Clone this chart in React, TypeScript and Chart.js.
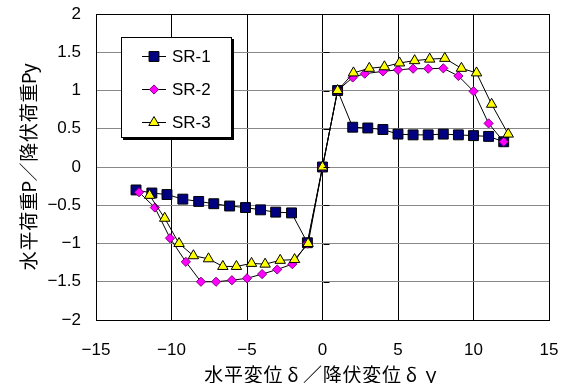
import React, { useEffect, useRef } from 'react';
import { Chart, registerables } from 'chart.js';

Chart.register(...registerables);

// ---- data ----
const seriesNames = ['SR-1', 'SR-2', 'SR-3'];

const sr1X = [-12.35, -11.3, -10.3, -9.25, -8.2, -7.2, -6.15, -5.1, -4.1, -3.1, -2.05, -1.0, 0, 1, 2, 3, 4, 5, 6, 7, 8, 9, 10, 11, 12];
const sr1Y = [-0.3, -0.34, -0.36, -0.42, -0.45, -0.48, -0.51, -0.53, -0.56, -0.59, -0.6, -0.99, 0, 1.0, 0.52, 0.51, 0.49, 0.43, 0.42, 0.42, 0.43, 0.42, 0.41, 0.4, 0.33];

const sr2X = [-12.15, -11.1, -10.1, -9.05, -8.05, -7.05, -6.0, -5.0, -4.0, -3.0, -2.0, -1.0, 0, 1, 2, 2.8, 4, 5, 6, 7, 8, 9, 10, 11, 12];
const sr2Y = [-0.33, -0.53, -0.93, -1.24, -1.5, -1.5, -1.48, -1.455, -1.4, -1.34, -1.27, -1.0, 0, 1.0, 1.17, 1.22, 1.25, 1.27, 1.285, 1.285, 1.29, 1.19, 0.99, 0.57, 0.33];

const sr3X = [-11.45, -10.45, -9.5, -8.55, -7.55, -6.6, -5.7, -4.7, -3.8, -2.8, -1.85, -0.95, 0, 1, 2.05, 3.1, 4.1, 5.1, 6.1, 7.1, 8.1, 9.2, 10.2, 11.2, 12.3];
const sr3Y = [-0.37, -0.67, -1.0, -1.16, -1.2, -1.3, -1.3, -1.26, -1.27, -1.22, -1.21, -1.0, 0, 1.0, 1.23, 1.29, 1.31, 1.36, 1.39, 1.41, 1.42, 1.29, 1.23, 0.82, 0.43];

const xMin = -15, xMax = 15, xStep = 5;
const yMin = -2, yMax = 2, yStep = 0.5;

const xTitle = '水平変位δ／降伏変位δｙ';
const yTitle = '水平荷重P／降伏荷重Py';

// ---- styles ----
const markerStyles = [
  { shape: 'rect', radius: 7, fill: '#000080', stroke: '#000000' },
  { shape: 'rectRot', radius: 4.6, fill: '#FF00FF', stroke: '#800080' },
  { shape: 'triangle', radius: 6, fill: '#FFFF00', stroke: '#000000' },
];

const tickFont = { family: '"Liberation Sans", Arial, sans-serif', size: 17 };
const titleFontCss = '19px "Noto Sans CJK JP", sans-serif';
const fullCell = 19.75;
const halfCell = 9.9;

const pts = (xs: number[], ys: number[]) => xs.map((x, i) => ({ x, y: ys[i] }));
const fmt = (v: number) => String(v).replace('-', '−');

function drawMarker(ctx: CanvasRenderingContext2D, idx: number, x: number, y: number) {
  const m = markerStyles[idx];
  ctx.save();
  ctx.beginPath();
  if (m.shape === 'rect') {
    const s = Math.SQRT1_2 * m.radius;
    ctx.rect(x - s, y - s, 2 * s, 2 * s);
  } else if (m.shape === 'rectRot') {
    const r = m.radius;
    ctx.moveTo(x - r, y);
    ctx.lineTo(x, y - r);
    ctx.lineTo(x + r, y);
    ctx.lineTo(x, y + r);
    ctx.closePath();
  } else {
    const r = m.radius;
    ctx.moveTo(x, y - r);
    ctx.lineTo(x + r * Math.sin((2 * Math.PI) / 3), y - r * Math.cos((2 * Math.PI) / 3));
    ctx.lineTo(x + r * Math.sin((4 * Math.PI) / 3), y - r * Math.cos((4 * Math.PI) / 3));
    ctx.closePath();
  }
  ctx.fillStyle = m.fill;
  ctx.fill();
  ctx.strokeStyle = m.stroke;
  ctx.lineWidth = 1;
  ctx.stroke();
  ctx.restore();
}

// draws a title with fixed-pitch cells (full-width / half-width), centred at (cx, cy)
function drawCellText(ctx: CanvasRenderingContext2D, text: string, cx: number, cy: number, rot: number) {
  const chars = Array.from(text);
  const widths = chars.map((c) => (c.charCodeAt(0) < 128 ? halfCell : fullCell));
  const total = widths.reduce((a, b) => a + b, 0);
  ctx.save();
  ctx.translate(cx, cy);
  ctx.rotate(rot);
  ctx.font = titleFontCss;
  ctx.fillStyle = '#000';
  ctx.textAlign = 'center';
  ctx.textBaseline = 'middle';
  let pos = -total / 2;
  chars.forEach((c, i) => {
    ctx.fillText(c, pos + widths[i] / 2, 0);
    pos += widths[i];
  });
  ctx.restore();
}

const framePlugin = {
  id: 'frameAndLegend',
  afterDatasetsDraw(chart: any) {
    const { ctx, chartArea, scales } = chart;
    const { left, top, right, bottom } = chartArea;
    ctx.save();
    // axis cross ticks on the vertical axis at x = 0
    const x0 = Math.round(scales.x.getPixelForValue(0)) + 0.5;
    ctx.strokeStyle = '#000';
    ctx.lineWidth = 1;
    for (let v = yMin; v <= yMax + 1e-9; v += yStep) {
      const py = Math.round(scales.y.getPixelForValue(v)) + 0.5;
      ctx.beginPath();
      ctx.moveTo(x0, py);
      ctx.lineTo(x0 + 6, py);
      ctx.stroke();
    }
    // plot frame
    ctx.strokeStyle = '#000';
    ctx.strokeRect(Math.round(left) + 0.5, Math.round(top) + 0.5, Math.round(right - left), Math.round(bottom - top));

    // legend box
    const bx = Math.round(left) + 25, by = Math.round(top) + 23, bw = 110, bh = 100;
    ctx.fillStyle = '#000';
    ctx.fillRect(bx + 2, by + 2, bw + 1, bh + 1);
    ctx.fillStyle = '#fff';
    ctx.fillRect(bx, by, bw, bh);
    ctx.strokeStyle = '#000';
    ctx.strokeRect(bx + 0.5, by + 0.5, bw, bh);
    seriesNames.forEach((name, i) => {
      const cy = by + 19 + i * 33;
      ctx.beginPath();
      ctx.strokeStyle = '#000';
      ctx.moveTo(bx + 21, cy + 0.5);
      ctx.lineTo(bx + 45, cy + 0.5);
      ctx.stroke();
      drawMarker(ctx, i, bx + 33, cy + 0.5);
      ctx.fillStyle = '#000';
      ctx.font = `${tickFont.size}px ${tickFont.family}`;
      ctx.textAlign = 'left';
      ctx.textBaseline = 'middle';
      ctx.fillText(name, bx + 51, cy + 1);
    });

    // axis titles
    drawCellText(ctx, xTitle, (left + right) / 2, 375, 0);
    drawCellText(ctx, yTitle, 29, (top + bottom) / 2, -Math.PI / 2);
    ctx.restore();
  },
};

export default function App() {
  const canvasRef = useRef<HTMLCanvasElement>(null);

  useEffect(() => {
    const canvas = canvasRef.current;
    if (!canvas) return;
    const seriesX = [sr1X, sr2X, sr3X];
    const seriesY = [sr1Y, sr2Y, sr3Y];
    const datasets = seriesNames.map((name, i) => ({
      label: name,
      data: pts(seriesX[i], seriesY[i]),
      showLine: true,
      borderColor: '#000',
      borderWidth: 1,
      tension: 0,
      pointStyle: markerStyles[i].shape,
      pointRadius: markerStyles[i].radius,
      pointBackgroundColor: markerStyles[i].fill,
      pointBorderColor: markerStyles[i].stroke,
      pointBorderWidth: 1,
      order: 2 - i,
    }));

    const chart = new Chart(canvas, {
      type: 'scatter',
      data: { datasets },
      options: {
        animation: false,
        responsive: false,
        events: [],
        layout: { padding: { top: 14, right: 18, left: 0, bottom: 0 } },
        plugins: { legend: { display: false }, tooltip: { enabled: false } },
        scales: {
          x: {
            type: 'linear',
            min: xMin,
            max: xMax,
            ticks: { stepSize: xStep, font: tickFont, color: '#000', padding: 0, callback: (v: any) => fmt(v) },
            grid: { color: '#000', drawTicks: true, tickLength: 20, tickColor: 'rgba(0,0,0,0)' },
            border: { display: false },
            afterFit: (s: any) => { s.height = 63; },
          },
          y: {
            type: 'linear',
            min: yMin,
            max: yMax,
            ticks: { stepSize: yStep, font: tickFont, color: '#000', padding: 0, callback: (v: any) => fmt(v) },
            grid: { color: '#888', drawTicks: true, tickLength: 15, tickColor: 'rgba(0,0,0,0)' },
            border: { display: false },
            afterFit: (s: any) => { s.width = 96; },
          },
        },
      },
      plugins: [framePlugin],
    } as any);
    return () => chart.destroy();
  }, []);

  return (
    <div style={{ position: 'absolute', left: 0, top: 0, width: 567, height: 383, background: '#fff' }}>
      <canvas ref={canvasRef} width={567} height={383} />
    </div>
  );
}
